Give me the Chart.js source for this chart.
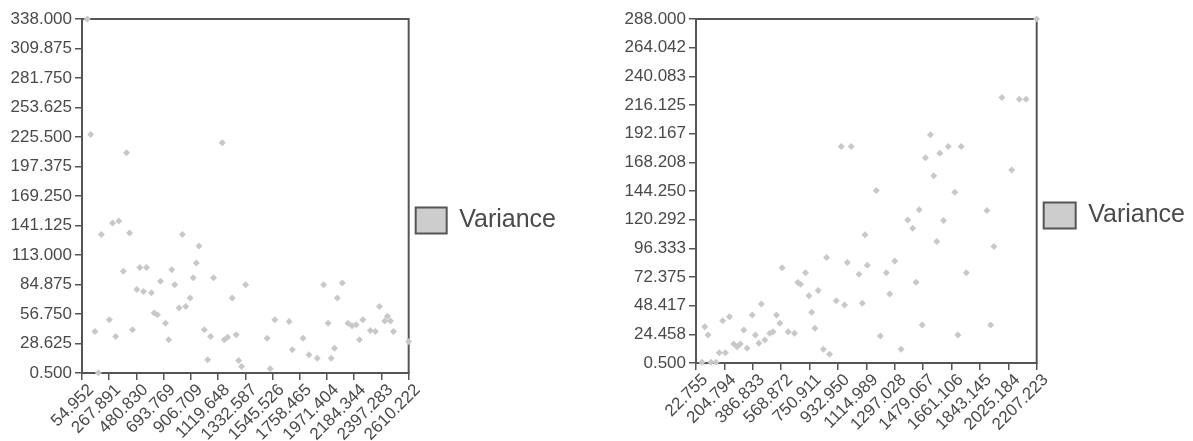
<!DOCTYPE html>
<html><head><meta charset="utf-8">
<script src="https://cdn.jsdelivr.net/npm/chart.js@4/dist/chart.umd.min.js"></script>
<style>
html,body{margin:0;padding:0;background:#fff;width:1193px;height:441px;overflow:hidden}
canvas{position:absolute;top:0}
#c1{left:0}
#c2{left:600px}
</style></head><body>
<canvas id="c1" width="566" height="441"></canvas>
<canvas id="c2" width="595" height="436"></canvas>
<script>
const seriesName = 'Variance';

const leftXTicks = [54.952, 267.891, 480.830, 693.769, 906.709, 1119.648, 1332.587, 1545.526, 1758.465, 1971.404, 2184.344, 2397.283, 2610.222];
const leftYTicks = [0.5, 28.625, 56.75, 84.875, 113, 141.125, 169.25, 197.375, 225.5, 253.625, 281.75, 309.875, 338];
const rightXTicks = [22.755, 204.794, 386.833, 568.872, 750.911, 932.950, 1114.989, 1297.028, 1479.067, 1661.106, 1843.145, 2025.184, 2207.223];
const rightYTicks = [0.5, 24.458, 48.417, 72.375, 96.333, 120.292, 144.25, 168.208, 192.167, 216.125, 240.083, 264.042, 288];

const leftX = [96, 123, 403, 1152, 294, 343, 206, 427, 840, 970, 378, 507, 560, 757, 949, 669, 780, 924, 1084, 1335, 484, 536, 598, 900, 1230, 814, 866, 619, 645, 269, 708, 156, 450, 1012, 318, 733, 1061, 1168, 1194, 1261, 1038, 1280, 1303, 183, 1945, 2091, 2052, 1563, 1675, 1980, 2135, 2168, 2199, 2252, 2382, 2444, 2423, 2468, 2491, 2310, 2350, 2225, 1503, 1784, 1700, 1830, 1895, 2004, 2030, 1527, 2610];
const leftY = [338, 228, 210.4, 220, 143.5, 145.5, 132.5, 134, 132.5, 121.6, 97.4, 101, 101, 99, 105.4, 87.9, 84.7, 91.4, 91.4, 84.7, 80, 78.3, 77, 72, 72, 62.4, 64, 57.6, 56, 51.3, 48, 40.1, 41.8, 41.8, 35.4, 32.2, 35.4, 32.2, 34.7, 37, 13.1, 12.4, 6.7, 0.7, 84.7, 86.3, 72, 51.3, 49.7, 48, 48, 45.6, 46.5, 51.3, 64, 54.5, 50, 50, 40.1, 41, 40, 32.2, 33.7, 33.7, 22.7, 17.9, 14.6, 14.6, 24.2, 4.5, 30.6];

const rightX = [61, 119, 151, 78.6, 100, 172, 211, 194, 237, 265, 286, 307, 329, 350, 383, 404, 426, 442, 464, 496, 517, 539, 560, 575, 614, 654, 676, 693, 725, 747, 764, 785, 806, 839, 860, 879, 922, 975, 993, 1068, 1089, 1107, 1121, 954, 1018, 1179, 1205, 1243, 1265, 1297, 1338, 1380, 1412, 1454, 1434, 1473, 1494, 1526, 1547, 1586, 1567, 1610, 1640, 1682, 1702, 1723, 1756, 1888, 1912, 1933, 1984, 2047, 2096, 2139, 2207];
const rightY = [1.1, 1.1, 1.1, 30.9, 23.9, 9.1, 9.1, 35.9, 39.2, 16.4, 14.1, 16.4, 28.1, 12.8, 40.7, 23.9, 17, 49.9, 19.7, 25.3, 26.7, 40.7, 33.7, 80.2, 26.7, 25.3, 67.7, 66.3, 76, 56.8, 42.9, 29.5, 61, 12, 88.6, 7.8, 52.6, 49, 84.4, 74.7, 50.4, 107.6, 82.1, 181.4, 181.4, 144.6, 23.1, 76, 58.2, 85.8, 12, 120.1, 113.2, 128.5, 68, 32.3, 172, 191.2, 156.9, 175.9, 102, 119.5, 181.4, 143.3, 23.9, 181.4, 76, 127.9, 32.3, 97.8, 222.4, 161.9, 221, 221, 288];

const FONT = "'Liberation Sans', Arial, sans-serif";
const AXIS = '#555555';
const TEXT = '#4a4a4a';

const frame = {
  id: 'frame',
  beforeDatasetsDraw(chart) {
    const a = chart.chartArea, ctx = chart.ctx;
    ctx.save();
    ctx.strokeStyle = AXIS;
    ctx.lineWidth = 2;
    ctx.strokeRect(a.left, a.top, a.right - a.left, a.bottom - a.top);
    ctx.restore();
  }
};
// legend centred on a fixed vertical span (cfg.legendSpan)
const legendSpan = {
  id: 'legendSpan',
  afterLayout(chart, args, opts) {
    if (chart.legend) { chart.legend.top = 0; chart.legend.bottom = opts.bottom || chart.height; }
  }
};

function makeChart(id, xs, ys, xTicks, yTicks, yWidth, xHeight, legPad, boxW, legBottom) {
  new Chart(document.getElementById(id), {
    type: 'scatter',
    data: {
      datasets: [{
        label: seriesName,
        data: xs.map((x, i) => ({x: x, y: ys[i]})),
        pointStyle: 'rectRot',
        pointRadius: 3.5,
        backgroundColor: '#c8c8c8',
        borderColor: '#c8c8c8',
        borderWidth: 0,
        clip: false
      }]
    },
    options: {
      responsive: false,
      animation: false,
      events: [],
      layout: {padding: {top: 19}},
      plugins: {
        tooltip: {enabled: false},
        legendSpan: {bottom: legBottom},
        legend: {
          position: 'right',
          maxWidth: 220,
          labels: {
            boxWidth: boxW,
            boxHeight: 26,
            padding: legPad,
            color: TEXT,
            font: {family: FONT, size: 25},
            generateLabels(chart) {
              const items = Chart.defaults.plugins.legend.labels.generateLabels(chart);
              items.forEach(it => { it.fillStyle = '#cdcdcd'; it.strokeStyle = '#555'; it.lineWidth = 2; });
              return items;
            }
          }
        }
      },
      scales: {
        x: {
          type: 'linear',
          min: xTicks[0],
          max: xTicks[xTicks.length - 1],
          afterBuildTicks(s) { s.ticks = xTicks.map(v => ({value: v})); },
          afterFit(s) { s.height = xHeight; },
          ticks: {
            autoSkip: false, minRotation: 45, maxRotation: 45, padding: 0, labelOffset: 9,
            color: TEXT, font: {family: FONT, size: 17},
            callback: v => Number(v).toFixed(3)
          },
          grid: {display: true, drawOnChartArea: false, drawTicks: true, tickLength: 7, color: AXIS, lineWidth: 1.5},
          border: {display: true, color: AXIS, width: 2}
        },
        y: {
          type: 'linear',
          min: yTicks[0],
          max: yTicks[yTicks.length - 1],
          afterBuildTicks(s) { s.ticks = yTicks.map(v => ({value: v})); },
          afterFit(s) { s.width = yWidth; },
          ticks: {
            autoSkip: false, padding: 3,
            color: TEXT, font: {family: FONT, size: 17},
            callback: v => Number(v).toFixed(3)
          },
          grid: {display: true, drawOnChartArea: false, drawTicks: true, tickLength: 7, color: AXIS, lineWidth: 1.5},
          border: {display: true, color: AXIS, width: 2}
        }
      }
    },
    plugins: [frame, legendSpan]
  });
}

makeChart('c1', leftX, leftY, leftXTicks, leftYTicks, 82, 68, 7, 31, 441);
makeChart('c2', rightX, rightY, rightXTicks, rightYTicks, 96, 73, 7, 32, 431);
</script>
</body></html>
